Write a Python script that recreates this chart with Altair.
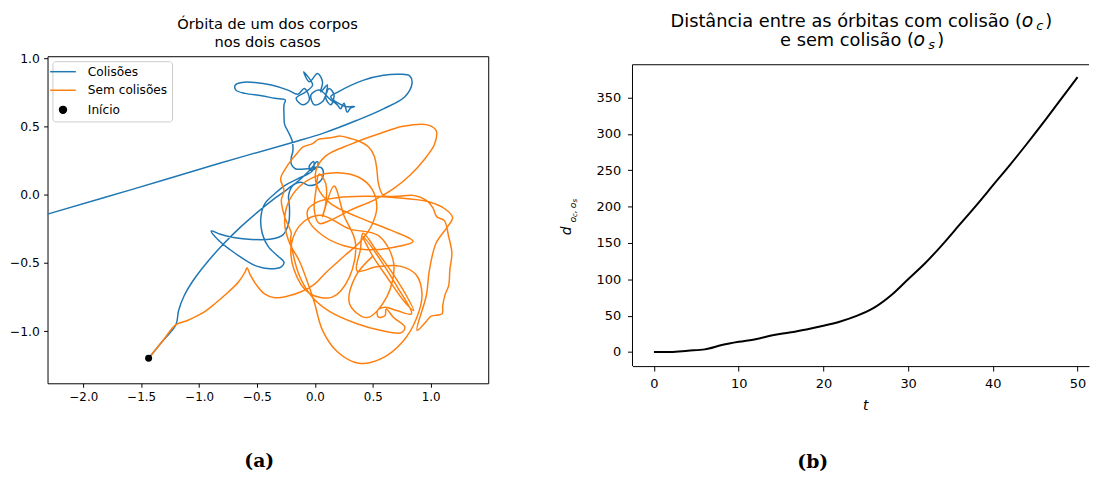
import altair as alt
import pandas as pd

# ---------------- Panel (a): orbit of one body ----------------
serie_names = ["Colisões", "Sem colisões", "Início"]
serie_colors = ["#1f77b4", "#ff7f0e", "#000000"]

colisoes_x = [-1.436, -1.313, -1.200, -1.177, -1.129, -1.044, -0.930, -0.788, -0.645, -0.503,
              -0.361, -0.233, -0.133, -0.062, -0.011, 0.017, 0.029, 0.009, -0.040, -0.048,
              -0.011, -0.020, -0.148, -0.261, -0.347, -0.432, -0.466, -0.455, -0.404, -0.318,
              -0.267, -0.290, -0.389, -0.503, -0.617, -0.731, -0.830, -0.896, -0.816, -0.702,
              -0.546, -0.375, -0.276, -0.227, -0.219, -0.227, -0.190, -0.119, -0.048, 0.037,
              0.074, 0.051, -0.060, -0.170, -0.204, -0.204, -0.190, -0.196, -0.233, -0.261,
              -0.267, -0.267, -0.256, -0.347, -0.461, -0.603, -0.682, -0.688, -0.631, -0.518,
              -0.375, -0.233, -0.148, -0.091, -0.048, -0.105, -0.162, -0.077, -0.020, -0.097,
              -0.048, 0.023, 0.066, 0.051, 0.108, 0.094, 0.137, 0.165, 0.123, 0.066,
              -0.005, -0.034, 0.037, 0.137, 0.194, 0.222, 0.251, 0.279, 0.307, 0.342,
              0.265, 0.137, 0.194, 0.421, 0.592, 0.734, 0.819, 0.839, 0.777, 0.592,
              0.364, 0.080, -0.148, -0.830, -1.570, -2.309, -2.850]
colisoes_y = [-1.198, -1.070, -0.952, -0.848, -0.740, -0.619, -0.494, -0.359, -0.239, -0.133,
              -0.036, 0.043, 0.108, 0.164, 0.212, 0.243, 0.229, 0.195, 0.181, 0.212,
              0.243, 0.176, 0.116, 0.067, 0.007, -0.065, -0.161, -0.282, -0.378, -0.451,
              -0.494, -0.528, -0.542, -0.523, -0.470, -0.403, -0.335, -0.265, -0.289, -0.313,
              -0.328, -0.325, -0.294, -0.210, -0.101, -0.005, 0.067, 0.092, 0.067, 0.092,
              0.152, 0.200, 0.190, 0.190, 0.224, 0.272, 0.321, 0.393, 0.465, 0.513,
              0.586, 0.658, 0.694, 0.706, 0.725, 0.742, 0.766, 0.803, 0.822, 0.822,
              0.803, 0.766, 0.735, 0.778, 0.694, 0.658, 0.706, 0.754, 0.803, 0.899,
              0.827, 0.887, 0.827, 0.754, 0.803, 0.706, 0.658, 0.730, 0.778, 0.682,
              0.658, 0.730, 0.766, 0.694, 0.658, 0.629, 0.670, 0.605, 0.634, 0.646,
              0.646, 0.718, 0.750, 0.839, 0.875, 0.882, 0.870, 0.815, 0.718, 0.629,
              0.545, 0.453, 0.393, 0.229, 0.041, -0.142, -0.272]

sem_x = [-1.436, -1.314, -1.200, -1.101, -0.973, -0.859, -0.745, -0.660, -0.603, -0.586,
         -0.560, -0.503, -0.432, -0.347, -0.233, -0.119, -0.005,
         0.094, 0.251, 0.393, 0.492, 0.535, 0.492, 0.379, 0.194, 0.023, -0.133,
         -0.233, -0.261, -0.219, -0.133, -0.062,
         -0.005, 0.066, 0.194, 0.379, 0.578, 0.762, 0.876, 0.925, 0.871, 0.734, 0.535, 0.364,
         0.393, 0.416, 0.535, 0.677, 0.791, 0.853, 0.777, 0.635, 0.492, 0.416, 0.564, 0.706, 0.834,
         0.706, 0.606, 0.541, 0.549, 0.606, 0.615, 0.677, 0.777, 0.748, 0.564, 0.364, 0.137,
         -0.020, -0.133, -0.190, -0.210, -0.204,
         -0.261, -0.290, -0.267, -0.296, -0.256, -0.204, -0.148, -0.105, -0.020, 0.029,
         0.137, 0.222, 0.307, 0.393, 0.464, 0.512, 0.535, 0.549, 0.592, 0.706, 0.848,
         0.962, 1.018, 1.052, 1.118, 1.155, 1.183, 1.166, 1.155, 1.126, 1.104, 1.098,
         1.004, 0.962, 0.882,
         0.962, 0.990, 1.047, 1.146, 1.189, 1.118, 0.990, 0.706, 0.421, 0.194, 0.023,
         -0.062, -0.048, 0.080, 0.251, 0.450, 0.649, 0.848,
         0.649, 0.364, 0.137, 0.023, 0.009, 0.094, 0.307, 0.535, 0.762, 0.962, 1.047,
         1.033, 0.947, 0.819, 0.677, 0.507, 0.307, 0.137, 0.037, -0.005, 0.009, 0.037,
         0.094, 0.094, 0.066, 0.165,
         0.250, 0.350, 0.300, 0.150, -0.050, -0.180, -0.200, -0.100, 0.050,
         0.300, 0.550, 0.680, 0.620, 0.450, 0.300, 0.350, 0.500]
sem_y = [-1.198, -1.070, -0.952, -0.921, -0.868, -0.795, -0.711, -0.639, -0.566, -0.535,
         -0.583, -0.663, -0.728, -0.754, -0.742, -0.711, -0.656,
         -0.571, -0.451, -0.342, -0.222, -0.089, 0.043, 0.128, 0.161, 0.140, 0.060,
         -0.065, -0.210, -0.354, -0.487, -0.644,
         -0.788, -0.993, -1.150, -1.234, -1.198, -1.073, -0.909, -0.728, -0.583, -0.523, -0.528, -0.559,
         -0.403, -0.282, -0.415, -0.583, -0.740, -0.848, -0.788, -0.619, -0.439, -0.306, -0.475, -0.668, -0.872,
         -0.848, -0.824, -0.848, -0.897, -0.885, -0.836, -0.897, -0.969, -1.010, -0.993, -0.945, -0.860,
         -0.752, -0.595, -0.427, -0.318, -0.282,
         -0.161, -0.041, 0.031, 0.116, 0.188, 0.253, 0.309, 0.349, 0.374, 0.405,
         0.417, 0.429, 0.412, 0.388, 0.349, 0.284, 0.188, 0.080, -0.005, -0.012, -0.005,
         -0.041, -0.094, -0.161, -0.190, -0.306, -0.427, -0.547, -0.668, -0.728, -0.812, -0.872,
         -0.889, -0.928, -0.993,
         -0.740, -0.547, -0.354, -0.234, -0.166, -0.101, -0.053, -0.022, -0.012, -0.022, -0.053,
         -0.113, -0.198, -0.306, -0.374, -0.403, -0.390, -0.342,
         -0.258, -0.161, -0.065, 0.055, 0.176, 0.284, 0.369, 0.441, 0.501, 0.513, 0.470,
         0.369, 0.260, 0.140, 0.043, -0.041, -0.113, -0.186, -0.210, -0.113, 0.031, 0.152,
         0.080, -0.065, -0.161, 0.063,
         -0.150, -0.350, -0.600, -0.750, -0.720, -0.550, -0.350, -0.200, -0.150,
         -0.250, -0.300, -0.500, -0.750, -0.900, -0.800, -0.600, -0.450]

inicio_x = [-1.436]
inicio_y = [-1.198]

xa_ticks = [-2.0, -1.5, -1.0, -0.5, 0.0, 0.5, 1.0]
ya_ticks = [-1.0, -0.5, 0.0, 0.5, 1.0]
titulo_a = ["Órbita de um dos corpos", "nos dois casos"]

# ---------------- Panel (b): distance between orbits ----------------
t_vals = [0, 2, 4, 6, 8, 10, 12, 14, 16, 18, 20, 22, 24, 26, 28, 30, 32, 34, 36, 38, 40,
          42, 44, 46, 48, 50]
d_vals = [0, 0, 1.8, 3.6, 9.5, 14, 17.6, 23, 26.8, 31, 36, 42, 50, 61, 78, 100, 122, 147,
          174, 201, 229, 257, 286, 316, 347, 378]
xb_ticks = [0, 10, 20, 30, 40, 50]
yb_ticks = [0, 50, 100, 150, 200, 250, 300, 350]
xb_domain = [-2.53, 51.35]
yb_frame = [-19.4, 395]       # visible frame of panel (b)

FONT = "DejaVu Sans"

blue_df = pd.DataFrame({"x": colisoes_x, "y": colisoes_y, "serie": serie_names[0],
                        "i": range(len(colisoes_x))})
orange_df = pd.DataFrame({"x": sem_x, "y": sem_y, "serie": serie_names[1],
                          "i": range(len(sem_x))})
start_df = pd.DataFrame({"x": inicio_x, "y": inicio_y, "serie": serie_names[2]})
dist_df = pd.DataFrame({"t": t_vals, "d": d_vals})


def text_layer(s, x, y, size, align="left", style="normal", weight="normal",
               font=FONT, angle=0):
    return alt.Chart(pd.DataFrame({"s": [s]})).mark_text(
        font=font, fontSize=size, align=align, baseline="alphabetic",
        fontStyle=style, fontWeight=weight, color="black", angle=angle
    ).encode(text="s:N", x=alt.value(x), y=alt.value(y))


# ---- panel a ----
WA, HA = 446, 331
color_scale = alt.Scale(domain=serie_names, range=serie_colors)
LINE_SYM = "M-2.6,0L2.6,0"
DOT_SYM = ("M-0.7,0A0.7,0.7,0,1,1,0.7,0A0.7,0.7,0,1,1,-0.7,0"
           "M-0.42,0A0.42,0.42,0,1,1,0.42,0A0.42,0.42,0,1,1,-0.42,0"
           "M-0.14,0A0.14,0.14,0,1,1,0.14,0A0.14,0.14,0,1,1,-0.14,0")
legend = alt.Legend(
    title=None, orient="top-left", offset=5, padding=4.5,
    fillColor="white", strokeColor="#cccccc", cornerRadius=3,
    labelFont=FONT, labelFontSize=12.3, labelColor="black",
    symbolSize=100, labelOffset=19, rowPadding=5.8,
    symbolStrokeWidth=1.5, symbolOpacity=1,
    symbolType=alt.ExprRef(expr=f"datum.value === 'Início' ? '{DOT_SYM}' : '{LINE_SYM}'"),
)
xa = alt.X("x:Q", scale=alt.Scale(domain=[-2.309, 1.497], nice=False, zero=False),
           axis=alt.Axis(values=xa_ticks, format=".1f", title=None, grid=False, domain=False,
                         tickSize=4, tickColor="black", labelFont=FONT, labelFontSize=12,
                         labelColor="black", labelPadding=4.5, labelFlush=False))
ya = alt.Y("y:Q", scale=alt.Scale(domain=[-1.381, 1.014], nice=False, zero=False),
           axis=alt.Axis(values=ya_ticks, format=".1f", title=None, grid=False, domain=False,
                         tickSize=4, tickColor="black", labelFont=FONT, labelFontSize=12.5,
                         labelColor="black", labelPadding=4.3, labelFlush=False))
col = alt.Color("serie:N", scale=color_scale, legend=legend)

blue = alt.Chart(blue_df).mark_line(clip=True, strokeWidth=1.5, interpolate="catmull-rom").encode(
    x=xa, y=ya, order="i:Q", color=col)
orange = alt.Chart(orange_df).mark_line(clip=True, strokeWidth=1.5, interpolate="catmull-rom").encode(
    x=xa, y=ya, order="i:Q", color=col)
start = alt.Chart(start_df).mark_point(filled=True, size=50, opacity=1).encode(
    x=xa, y=ya, color=col)

panel_a = alt.layer(
    blue, orange, start,
    text_layer(titulo_a[0], 222.7, -27.4, 14.8, align="center"),
    text_layer(titulo_a[1], 222.7, -9.0, 14.8, align="center"),
    text_layer("(a)", 214.3, 415.3, 19, align="center", weight="bold", font="DejaVu Serif"),
).properties(width=WA, height=HA, view=alt.ViewBackground(stroke="black", strokeWidth=1))

# ---- panel b ----
# plot area starts at the same top as panel (a); the frame of (b) is drawn lower
WB, HB = 462, 313.6
xb_scale = alt.Scale(domain=xb_domain, nice=False, zero=False)
yb_scale = alt.Scale(domain=[-19.4, 406.7], nice=False, zero=False)
line_b = alt.Chart(dist_df).mark_line(color="black", strokeWidth=2, interpolate="monotone").encode(
    x=alt.X("t:Q", scale=xb_scale,
            axis=alt.Axis(values=xb_ticks, format="d", title="t", titleFont=FONT,
                          titleFontStyle="italic", titleFontWeight="normal", titleFontSize=14,
                          titleColor="black", titlePadding=8, titleX=235.5, grid=False,
                          domainColor="black", tickColor="black", tickSize=5,
                          labelFont=FONT, labelFontSize=13.1, labelColor="black",
                          labelPadding=7, labelFlush=False)),
    y=alt.Y("d:Q", scale=yb_scale,
            axis=alt.Axis(values=yb_ticks, format="d", title=None, grid=False, domain=False,
                          tickColor="black", tickSize=5,
                          labelFont=FONT, labelFontSize=13.1, labelColor="black",
                          labelPadding=7, labelFlush=False)),
)
frame_top = alt.Chart(pd.DataFrame({"a": [0]})).mark_rule(color="black", strokeWidth=1).encode(
    y=alt.datum(yb_frame[1], scale=yb_scale))
frame_left = alt.Chart(pd.DataFrame({"a": [0]})).mark_rule(color="black", strokeWidth=1).encode(
    x=alt.datum(xb_domain[0], scale=xb_scale),
    y=alt.datum(yb_frame[0], scale=yb_scale),
    y2=alt.datum(yb_frame[1]))

E1 = 394.2   # end of "(" on first title line
E2 = 284.8   # end of "(" on second title line
T1, T2 = -30.0, -10.4
title_b = [
    text_layer("Distância entre as órbitas com colisão (", E1, T1, 18, align="right"),
    text_layer("o", E1 - 0.3, T1, 19, style="italic"),
    text_layer("c", E1 + 14.5, T1 + 3.5, 13, style="italic"),
    text_layer(")", E1 + 23.5, T1, 18),
    text_layer("e sem colisão (", E2, T2, 18, align="right"),
    text_layer("o", E2 - 0.3, T2, 19, style="italic"),
    text_layer("s", E2 + 14.5, T2 + 3.5, 13, style="italic"),
    text_layer(")", E2 + 23.5, T2, 18),
]
ylabel_b = [
    text_layer("d", -62.0, 181.3, 14, style="italic", angle=270),
    text_layer("o", -57.6, 168.3, 9.5, style="italic", angle=270),
    text_layer("c", -56.0, 162.6, 7, style="italic", angle=270),
    text_layer(",", -57.6, 158.8, 9.5, style="italic", angle=270),
    text_layer("o", -57.6, 153.8, 9.5, style="italic", angle=270),
    text_layer("s", -56.0, 148.1, 7, style="italic", angle=270),
]
caption_b = text_layer("(b)", 182.4, 416.3, 19, align="center", weight="bold", font="DejaVu Serif")

panel_b = alt.layer(
    line_b, frame_top, frame_left, *title_b, *ylabel_b, caption_b
).properties(width=WB, height=HB, view=alt.ViewBackground(stroke="transparent"))

chart = alt.hconcat(panel_a, panel_b, spacing=71).properties(padding=0).configure(font=FONT)

chart.save("out.html", embed_options={"renderer": "svg", "actions": False})
